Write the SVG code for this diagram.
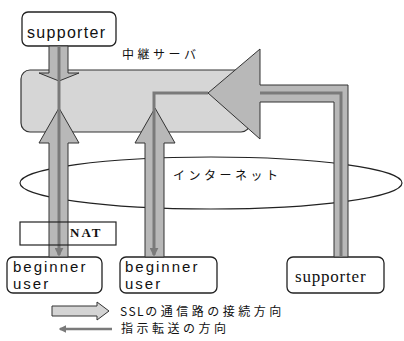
<svg xmlns="http://www.w3.org/2000/svg" width="404" height="341" viewBox="0 0 404 341">
<style>
.box{fill:#fff;stroke:#222;stroke-width:1.3}
.arr{fill:#b8b8b8;stroke:#333;stroke-width:1}
.ins{fill:none;stroke:#7a7a7a;stroke-width:3}
.lat{font-family:"Liberation Sans",Arial,sans-serif;font-size:16px;fill:#111;letter-spacing:1.3px}
.bu{font-family:"Liberation Sans",Arial,sans-serif;font-size:15px;fill:#111;letter-spacing:2px}
.jp{font-family:"Noto Sans CJK JP",sans-serif;font-size:12px;fill:#111;letter-spacing:3.5px}
</style>
<defs>
<marker id="ah" viewBox="0 0 10 10" refX="8" refY="5" markerWidth="3" markerHeight="3" orient="auto" markerUnits="strokeWidth">
<path d="M0,0 L10,5 L0,10 z" fill="#7a7a7a"/>
</marker>
</defs>
<rect x="0" y="0" width="404" height="341" fill="#fff"/>

<g id="internet">
<ellipse cx="211" cy="183" rx="191" ry="26" fill="none" stroke="#222" stroke-width="1.2"/>
<text class="jp" x="173" y="180">インターネット</text>
</g>

<g id="relay">
<rect x="21" y="70" width="229" height="62" rx="9" fill="#d6d6d6" stroke="#333" stroke-width="1.2"/>
<text class="jp" x="122" y="59">中継サーバ</text>
</g>

<g id="supporter-top">
<rect class="box" x="22" y="12" width="94" height="34" rx="6"/>
<text class="lat" x="27" y="38">supporter</text>
</g>

<g id="beginner-1">
<rect class="box" x="7" y="257" width="95" height="36" rx="6"/>
<text class="bu" x="13" y="272">beginner</text>
<text class="bu" x="13" y="289">user</text>
</g>

<g id="beginner-2">
<rect class="box" x="120" y="257" width="97" height="36" rx="6"/>
<text class="bu" x="125" y="272">beginner</text>
<text class="bu" x="125" y="289">user</text>
</g>

<g id="supporter-right">
<rect class="box" x="287" y="257" width="97" height="36" rx="6"/>
<text x="295" y="282" style="font-family:'Liberation Serif','Times New Roman',serif;font-size:17px;fill:#111;letter-spacing:0.8px">supporter</text>
</g>

<g id="connectors">
<polygon class="arr" points="49,46 68,46 68,73 79,73 59,81 39,73 49,73"/>
<polygon class="arr" points="49,257 49,143 39,143 59,108 79,143 68,143 68,257"/>
<polygon class="arr" points="145,257 145,143 135,143 155,108 175,143 164,143 164,257"/>
<line class="ins" x1="59" y1="46" x2="59" y2="255" marker-end="url(#ah)"/>
<path class="ins" d="M208,93 L154,93 L154,255" marker-end="url(#ah)"/>
<polygon class="arr" points="208,93 260,49 260,85 348,85 348,257 334,257 334,102 260,102 260,139"/>
<path class="ins" d="M341,257 L341,93 L260,93"/>
</g>

<g id="nat">
<rect x="20" y="222" width="96" height="23" fill="none" stroke="#222" stroke-width="1.2"/>
<text x="70" y="237" style="font-family:'Liberation Serif','Times New Roman',serif;font-weight:bold;font-size:13px;fill:#111;letter-spacing:2px">NAT</text>
</g>

<g id="legend">
<polygon points="52,306 97,306 97,302 109,311 97,320 97,316 52,316" fill="#d4d4d4" stroke="#333" stroke-width="1"/>
<text class="jp" x="120" y="316"><tspan style="letter-spacing:1.5px">SSL</tspan>の通信路の接続方向</text>
<line x1="112" y1="329" x2="60" y2="329" stroke="#7a7a7a" stroke-width="2.5" marker-end="url(#ah)"/>
<text class="jp" x="121" y="333">指示転送の方向</text>
</g>
</svg>
